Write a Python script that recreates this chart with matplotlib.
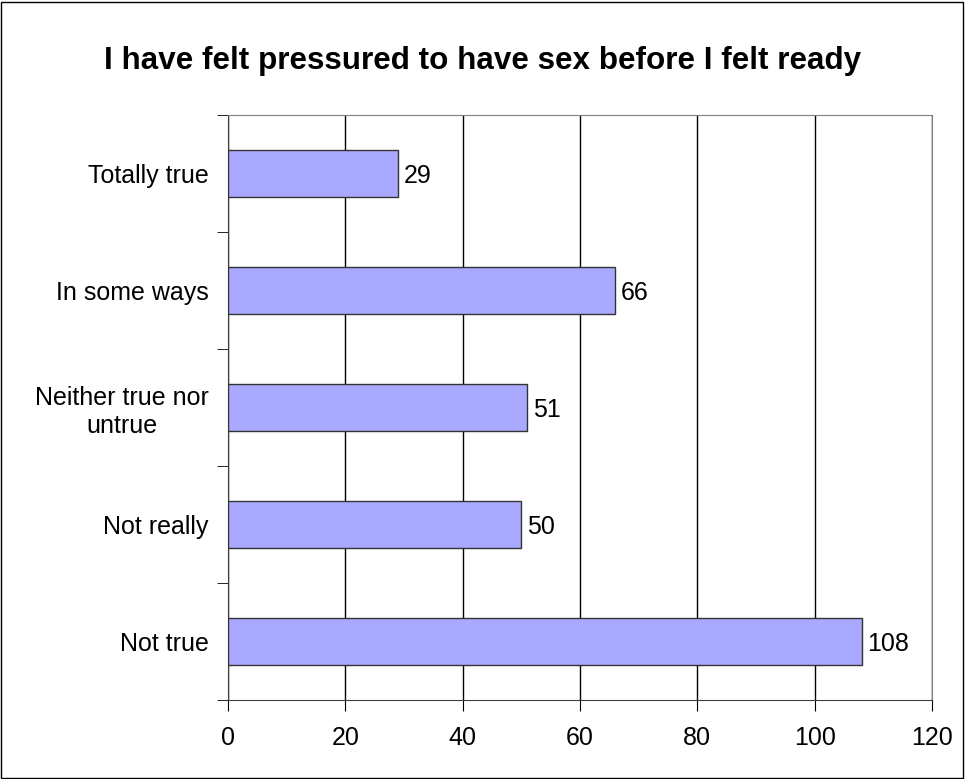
import matplotlib.pyplot as plt
from matplotlib.patches import Rectangle

plt.rcParams['font.family'] = ['Liberation Sans', 'DejaVu Sans']

# Data
categories = ['Totally true', 'In some ways', 'Neither true nor\nuntrue', 'Not really', 'Not true']
counts = [29, 66, 51, 50, 108]
x_ticks = [0, 20, 40, 60, 80, 100, 120]

fig = plt.figure(figsize=(9.65, 7.79), dpi=100)
ax = fig.add_axes([228 / 965, 1 - 700 / 779, 704 / 965, 585 / 779])

# Outer border of the chart
fig.patches.append(Rectangle((0.001, 0.001), 0.997, 0.997, transform=fig.transFigure,
                             fill=False, edgecolor='black', linewidth=1))

ypos = list(range(len(categories)))[::-1]
ax.barh(ypos, counts, height=0.4, color='#A9A9FF', edgecolor='#333333', linewidth=1, zorder=3)

for y, v in zip(ypos, counts):
    ax.text(v + 1.0, y, str(v), va='center_baseline', ha='left', fontsize=18)

ax.set_xlim(0, 120)
ax.set_ylim(-0.5, len(categories) - 0.5)
ax.set_xticks(x_ticks)
ax.tick_params(axis='x', labelsize=18, length=8, direction='out', pad=11, color='black')
ax.xaxis.grid(True, color='black', linewidth=1, zorder=0)

ax.set_yticks(ypos)
ax.set_yticklabels(categories, fontsize=18, ha='right', multialignment='center')
ax.tick_params(axis='y', length=0, pad=14)
ax.set_yticks([i - 0.5 for i in range(len(categories) + 1)], minor=True)
ax.tick_params(axis='y', which='minor', length=8, direction='out', color='black')

for s in ['left', 'bottom']:
    ax.spines[s].set_color('#404040')
for s in ['top', 'right']:
    ax.spines[s].set_color('#808080')

fig.text(0.5, 1 - 61 / 779, 'I have felt pressured to have sex before I felt ready',
         ha='center', va='center', fontsize=22.6, fontweight='bold')

fig.savefig('out.png', dpi=100)
